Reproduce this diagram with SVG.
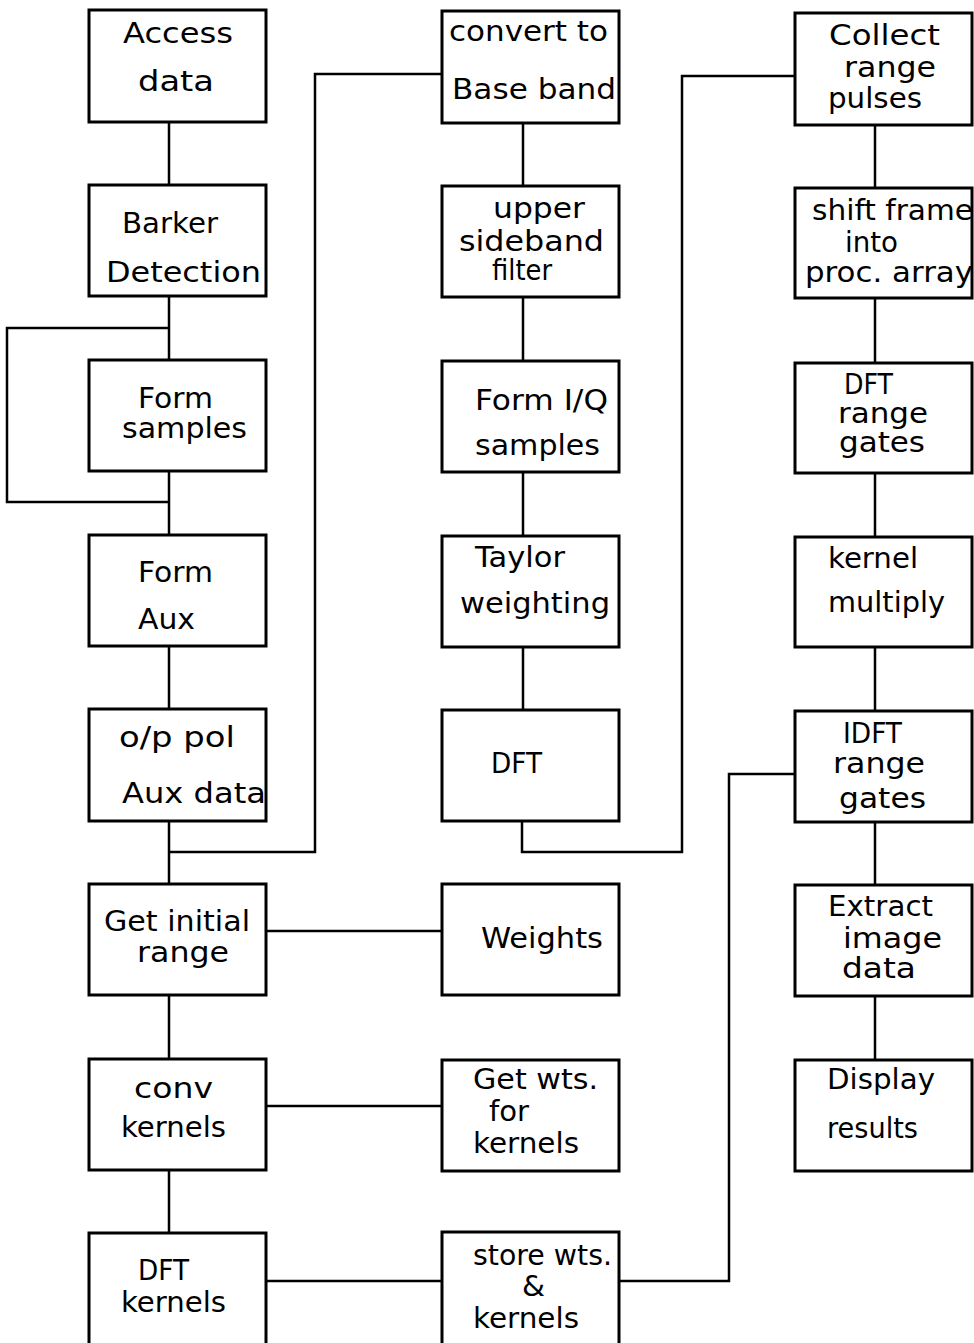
<svg xmlns="http://www.w3.org/2000/svg" width="974" height="1343" viewBox="0 0 974 1343">
  <style>
    .box { fill: none; stroke: #000; stroke-width: 3; }
    .wire { fill: none; stroke: #000; stroke-width: 2.5; stroke-linejoin: miter; }
    text { font-family: "DejaVu Sans", "Liberation Sans", sans-serif; font-size: 29px; fill: #000; }
  </style>
  <rect width="974" height="1343" fill="#fff"/>

  <!-- connectors -->
  <g id="connectors">
    <!-- left column chain -->
    <path class="wire" d="M169 122V185M169 296V360M169 471V535M169 646V709M169 821V884M169 995V1059M169 1170V1233"/>
    <!-- feedback loop around Form samples -->
    <path class="wire" d="M169 328H7V502H169"/>
    <!-- o/p pol output to baseband conversion -->
    <path class="wire" d="M169 852H315V74H442"/>
    <!-- middle column chain -->
    <path class="wire" d="M523 123V186M523 297V361M523 472V536M523 647V710"/>
    <!-- DFT output to range pulse collection -->
    <path class="wire" d="M522 821V852H682V76H795"/>
    <!-- right column chain -->
    <path class="wire" d="M875 125V188M875 298V363M875 473V537M875 647V711M875 822V885M875 996V1060"/>
    <!-- stored kernels to IDFT -->
    <path class="wire" d="M619 1281H729V774H795"/>
    <!-- cross links left to middle -->
    <path class="wire" d="M266 931H442M266 1106H442M266 1281H442"/>
  </g>

  <!-- left column -->
  <g id="access-data">
    <rect class="box" x="89" y="10" width="177" height="112"/>
    <text x="123" y="43" textLength="110" lengthAdjust="spacingAndGlyphs">Access</text>
    <text x="138" y="91" textLength="76" lengthAdjust="spacingAndGlyphs">data</text>
  </g>
  <g id="barker-detection">
    <rect class="box" x="89" y="185" width="177" height="111"/>
    <text x="122" y="233" textLength="96" lengthAdjust="spacingAndGlyphs">Barker</text>
    <text x="106" y="282" textLength="155" lengthAdjust="spacingAndGlyphs">Detection</text>
  </g>
  <g id="form-samples">
    <rect class="box" x="89" y="360" width="177" height="111"/>
    <text x="138" y="408" textLength="75" lengthAdjust="spacingAndGlyphs">Form</text>
    <text x="122" y="438" textLength="125" lengthAdjust="spacingAndGlyphs">samples</text>
  </g>
  <g id="form-aux">
    <rect class="box" x="89" y="535" width="177" height="111"/>
    <text x="138" y="582" textLength="75" lengthAdjust="spacingAndGlyphs">Form</text>
    <text x="138" y="629" textLength="57" lengthAdjust="spacingAndGlyphs">Aux</text>
  </g>
  <g id="op-pol-aux-data">
    <rect class="box" x="89" y="709" width="177" height="112"/>
    <text x="119" y="747" textLength="116" lengthAdjust="spacingAndGlyphs">o/p pol</text>
    <text x="122" y="803" textLength="144" lengthAdjust="spacingAndGlyphs">Aux data</text>
  </g>
  <g id="get-initial-range">
    <rect class="box" x="89" y="884" width="177" height="111"/>
    <text x="104" y="931" textLength="146" lengthAdjust="spacingAndGlyphs">Get initial</text>
    <text x="137" y="962" textLength="92" lengthAdjust="spacingAndGlyphs">range</text>
  </g>
  <g id="conv-kernels">
    <rect class="box" x="89" y="1059" width="177" height="111"/>
    <text x="134" y="1098" textLength="79" lengthAdjust="spacingAndGlyphs">conv</text>
    <text x="121" y="1137" textLength="105" lengthAdjust="spacingAndGlyphs">kernels</text>
  </g>
  <g id="dft-kernels">
    <rect class="box" x="89" y="1233" width="177" height="120"/>
    <text x="138" y="1280" textLength="51" lengthAdjust="spacingAndGlyphs">DFT</text>
    <text x="121" y="1312" textLength="105" lengthAdjust="spacingAndGlyphs">kernels</text>
  </g>

  <!-- middle column -->
  <g id="convert-baseband">
    <rect class="box" x="442" y="11" width="177" height="112"/>
    <text x="449" y="41" textLength="159" lengthAdjust="spacingAndGlyphs">convert to</text>
    <text x="452" y="99" textLength="164" lengthAdjust="spacingAndGlyphs">Base band</text>
  </g>
  <g id="upper-sideband-filter">
    <rect class="box" x="442" y="186" width="177" height="111"/>
    <text x="493" y="218" textLength="92" lengthAdjust="spacingAndGlyphs">upper</text>
    <text x="459" y="251" textLength="145" lengthAdjust="spacingAndGlyphs">sideband</text>
    <text x="492" y="280" textLength="60" lengthAdjust="spacingAndGlyphs">filter</text>
  </g>
  <g id="form-iq-samples">
    <rect class="box" x="442" y="361" width="177" height="111"/>
    <text x="475" y="410" textLength="133" lengthAdjust="spacingAndGlyphs">Form I/Q</text>
    <text x="475" y="455" textLength="125" lengthAdjust="spacingAndGlyphs">samples</text>
  </g>
  <g id="taylor-weighting">
    <rect class="box" x="442" y="536" width="177" height="111"/>
    <text x="475" y="567" textLength="90" lengthAdjust="spacingAndGlyphs">Taylor</text>
    <text x="460" y="613" textLength="150" lengthAdjust="spacingAndGlyphs">weighting</text>
  </g>
  <g id="dft">
    <rect class="box" x="442" y="710" width="177" height="111"/>
    <text x="491" y="773" textLength="51" lengthAdjust="spacingAndGlyphs">DFT</text>
  </g>
  <g id="weights">
    <rect class="box" x="442" y="884" width="177" height="111"/>
    <text x="481" y="948" textLength="122" lengthAdjust="spacingAndGlyphs">Weights</text>
  </g>
  <g id="get-wts-for-kernels">
    <rect class="box" x="442" y="1060" width="177" height="111"/>
    <text x="473" y="1089" textLength="125" lengthAdjust="spacingAndGlyphs">Get wts.</text>
    <text x="489" y="1121" textLength="40" lengthAdjust="spacingAndGlyphs">for</text>
    <text x="473" y="1153" textLength="106" lengthAdjust="spacingAndGlyphs">kernels</text>
  </g>
  <g id="store-wts-kernels">
    <rect class="box" x="442" y="1232" width="177" height="121"/>
    <text x="473" y="1265" textLength="139" lengthAdjust="spacingAndGlyphs">store wts.</text>
    <text x="522" y="1296" textLength="23" lengthAdjust="spacingAndGlyphs">&amp;</text>
    <text x="473" y="1328" textLength="106" lengthAdjust="spacingAndGlyphs">kernels</text>
  </g>

  <!-- right column -->
  <g id="collect-range-pulses">
    <rect class="box" x="795" y="13" width="177" height="112"/>
    <text x="829" y="45" textLength="111" lengthAdjust="spacingAndGlyphs">Collect</text>
    <text x="844" y="77" textLength="92" lengthAdjust="spacingAndGlyphs">range</text>
    <text x="828" y="108" textLength="94" lengthAdjust="spacingAndGlyphs">pulses</text>
  </g>
  <g id="shift-frame">
    <rect class="box" x="795" y="188" width="177" height="110"/>
    <text x="812" y="220" textLength="161" lengthAdjust="spacingAndGlyphs">shift frame</text>
    <text x="845" y="252" textLength="53" lengthAdjust="spacingAndGlyphs">into</text>
    <text x="805" y="282" textLength="168" lengthAdjust="spacingAndGlyphs">proc. array</text>
  </g>
  <g id="dft-range-gates">
    <rect class="box" x="795" y="363" width="177" height="110"/>
    <text x="844" y="394" textLength="49" lengthAdjust="spacingAndGlyphs">DFT</text>
    <text x="838" y="423" textLength="90" lengthAdjust="spacingAndGlyphs">range</text>
    <text x="839" y="452" textLength="86" lengthAdjust="spacingAndGlyphs">gates</text>
  </g>
  <g id="kernel-multiply">
    <rect class="box" x="795" y="537" width="177" height="110"/>
    <text x="828" y="568" textLength="90" lengthAdjust="spacingAndGlyphs">kernel</text>
    <text x="828" y="612" textLength="117" lengthAdjust="spacingAndGlyphs">multiply</text>
  </g>
  <g id="idft-range-gates">
    <rect class="box" x="795" y="711" width="177" height="111"/>
    <text x="843" y="743" textLength="59" lengthAdjust="spacingAndGlyphs">IDFT</text>
    <text x="833" y="773" textLength="92" lengthAdjust="spacingAndGlyphs">range</text>
    <text x="839" y="808" textLength="87" lengthAdjust="spacingAndGlyphs">gates</text>
  </g>
  <g id="extract-image-data">
    <rect class="box" x="795" y="885" width="177" height="111"/>
    <text x="828" y="916" textLength="105" lengthAdjust="spacingAndGlyphs">Extract</text>
    <text x="843" y="948" textLength="99" lengthAdjust="spacingAndGlyphs">image</text>
    <text x="842" y="978" textLength="74" lengthAdjust="spacingAndGlyphs">data</text>
  </g>
  <g id="display-results">
    <rect class="box" x="795" y="1060" width="177" height="111"/>
    <text x="827" y="1089" textLength="108" lengthAdjust="spacingAndGlyphs">Display</text>
    <text x="827" y="1138" textLength="91" lengthAdjust="spacingAndGlyphs">results</text>
  </g>
</svg>
